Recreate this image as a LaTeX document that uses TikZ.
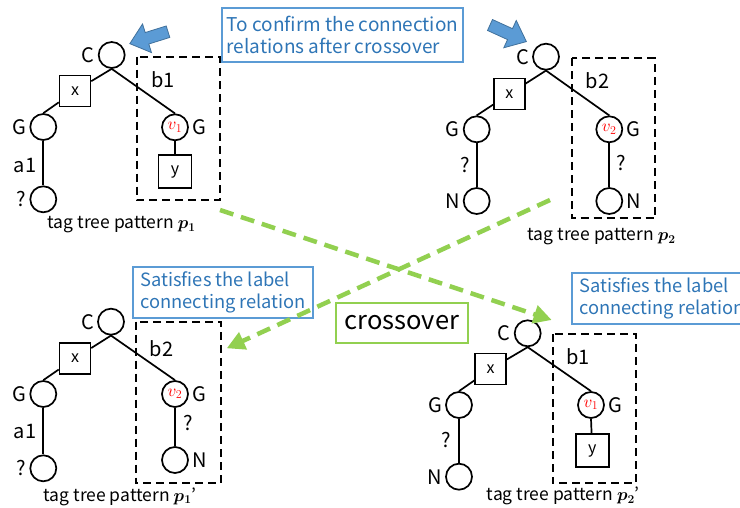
\documentclass[tikz,border=0pt]{standalone}
\usepackage{fontspec}
\setmainfont{Noto Sans CJK JP}
\usepackage{bm}
\usetikzlibrary{arrows.meta}
% let the math italic fonts scale freely
\DeclareFontShape{OML}{cmm}{m}{it}{<->cmmi10}{}
\DeclareFontShape{OML}{cmm}{b}{it}{<->cmmib10}{}

\definecolor{arrowblue}{HTML}{5B9BD5}
\definecolor{arrowedge}{HTML}{41719C}
\definecolor{notetext}{HTML}{2E75B6}
\definecolor{xgreen}{HTML}{92D050}

\tikzset{
  vtx/.style={circle, draw, line width=1.7pt, minimum size=26pt, inner sep=0pt, font=\fontsize{17}{17}\selectfont},
  sqbox/.style={rectangle, draw, line width=1.5pt, minimum width=31pt, minimum height=31pt, inner sep=0pt, font=\fontsize{16}{16}\selectfont},
  lbl/.style={font=\fontsize{20}{20}\selectfont, inner sep=3pt},
  tedge/.style={line width=1.7pt},
  region/.style={draw, line width=1.8pt, dash pattern=on 8pt off 5pt},
  caption/.style={font=\fontsize{17.5}{17.5}\selectfont, inner sep=0pt},
  note/.style={draw=arrowblue, line width=1.8pt, text=notetext, align=left, font=\fontsize{19}{22}\selectfont, inner sep=0pt},
  smallnote/.style={note, font=\fontsize{18.3}{22}\selectfont},
  swap/.style={draw=xgreen, line width=4.5pt, dash pattern=on 14pt off 8pt, -{Triangle[length=18pt,width=18pt]}},
}

% fat blue pointer: #1 = tail point, #2 = direction angle
\newcommand\bluepointer[2]{%
  \begin{scope}[shift={#1}, rotate=#2]
    \filldraw[fill=arrowblue, draw=arrowedge, line width=0.8pt]
      (0,-6) -- (22,-6) -- (22,-15) -- (40,0) -- (22,15) -- (22,6) -- (0,6) -- cycle;
  \end{scope}}

\begin{document}
\begin{tikzpicture}[x=1pt, y=-1pt]
\clip (0,0) rectangle (740,507);
\useasboundingbox (0,0) rectangle (740,507);

% ---------- tag tree pattern p1 ----------
\node[vtx, label={[lbl]left:C}] (c1) at (111.7,55) {};
\node[sqbox] (x1) at (75,91) {x};
\node[vtx, label={[lbl]left:G}] (g1) at (43.3,127) {};
\node[vtx, label={[lbl]left:?}] (q1) at (43.3,199.3) {};
\node[vtx, label={[lbl]right:G}] (v1) at (175,127.3) {\textcolor{red}{$v_1$}};
\node[sqbox, minimum size=33pt] (y1) at (175,171.7) {y};
\draw[tedge] (c1.south) -- (x1);
\draw[tedge] (x1) -- (g1.north);
\draw[tedge] (c1.south) -- (v1.north);
\draw[tedge] (v1.south) -- (y1);
\draw[tedge] (g1.south) -- (q1.north);
\draw[region] (136.7,56.7) rectangle (220,200);
\node[lbl] (b1a) at (163,80) {b1};
\node[lbl] (a1a) at (25,165) {a1};
\node[caption] (cap1) at (121.7,225) {tag tree pattern $\bm{p}_{\bm{1}}$};

% ---------- tag tree pattern p2 ----------
\node[vtx, label={[lbl]left:C}] (c2) at (546,56.7) {};
\node[sqbox] (x2) at (509.3,94) {x};
\node[vtx, label={[lbl]left:G}] (g2) at (476.7,129.3) {};
\node[vtx, label={[lbl]left:N}] (n2a) at (476.7,201) {};
\node[vtx, label={[lbl]right:G}] (v2) at (609.3,129.3) {\textcolor{red}{$v_2$}};
\node[vtx, label={[lbl]right:N}] (n2b) at (609.3,201) {};
\draw[tedge] (c2.south) -- (x2);
\draw[tedge] (x2) -- (g2.north);
\draw[tedge] (c2.south) -- (v2.north);
\draw[tedge] (g2.south) -- (n2a.north);
\draw[tedge] (v2.south) -- (n2b.north);
\draw[region] (571.7,58.3) rectangle (655,218.3);
\node[lbl] (b2a) at (597.7,81) {b2};
\node[lbl] (qa) at (465,165) {?};
\node[lbl] (qb) at (621,163) {?};
\node[caption] (cap2) at (601.7,236.7) {tag tree pattern $\bm{p}_{\bm{2}}$};

% ---------- tag tree pattern p1' ----------
\node[vtx, label={[lbl]left:C}] (c3) at (111,321.7) {};
\node[sqbox] (x3) at (75,358.3) {x};
\node[vtx, label={[lbl]left:G}] (g3) at (43.3,394) {};
\node[vtx, label={[lbl]left:?}] (q3) at (43.3,468.3) {};
\node[vtx, label={[lbl]right:G}] (v3) at (175,394) {\textcolor{red}{$v_2$}};
\node[vtx, label={[lbl]right:N}] (n3) at (175,460) {};
\draw[tedge] (c3.south) -- (x3);
\draw[tedge] (x3) -- (g3.north);
\draw[tedge] (c3.south) -- (v3.north);
\draw[tedge] (g3.south) -- (q3.north);
\draw[tedge] (v3.south) -- (n3.north);
\draw[region] (136,321.7) rectangle (221,483.3);
\node[lbl] (b2b) at (161.7,348.3) {b2};
\node[lbl] (a1b) at (25,431.7) {a1};
\node[lbl] (qc) at (188.3,423.3) {?};
\node[caption] (cap3) at (120,496.7) {tag tree pattern $\bm{p}_{\bm{1}}$’};

% ---------- tag tree pattern p2' ----------
\node[vtx, label={[lbl]left:C}] (c4) at (527.7,333.3) {};
\node[sqbox] (x4) at (490.7,369) {x};
\node[vtx, label={[lbl]left:G}] (g4) at (459,405) {};
\node[vtx, label={[lbl]left:N}] (n4) at (459,476.7) {};
\node[vtx, label={[lbl]right:G}] (v4) at (591,405) {\textcolor{red}{$v_1$}};
\node[sqbox, minimum size=33pt] (y4) at (592.3,450.7) {y};
\draw[tedge] (c4.south) -- (x4);
\draw[tedge] (x4) -- (g4.north);
\draw[tedge] (c4.south) -- (v4.north);
\draw[tedge] (g4.south) -- (n4.north);
\draw[tedge] (v4.south) -- (y4);
\draw[region] (552.7,334) rectangle (636,483.3);
\node[lbl] (b1b) at (578.3,356.7) {b1};
\node[lbl] (qd) at (446.7,440) {?};
\node[caption] (cap4) at (563.3,496) {tag tree pattern $\bm{p}_{\bm{2}}$’};

% ---------- notes ----------
\node[note, minimum width=241.6pt, minimum height=53.4pt] (note1) at (342.5,35)
  {To confirm the connection\\relations after crossover};
\node[smallnote, minimum width=180pt, minimum height=51.6pt] (note2) at (223.3,292.5)
  {Satisfies the label\\connecting relation};
\node[smallnote, anchor=west, minimum height=51.3pt, inner xsep=7.6pt] (note3) at (570.7,298.3)
  {Satisfies the label\\connecting relation};
\node[draw=xgreen, line width=2.2pt, minimum width=131.7pt, minimum height=39.4pt,
      inner sep=0pt, font=\fontsize{25.5}{25.5}\selectfont] (xo) at (401.8,323) {crossover};

% ---------- blue pointers ----------
\bluepointer{(168,31.7)}{197.4}
\bluepointer{(490,25)}{-24.5}

% ---------- crossover arrows ----------
\coordinate (s1) at (220,210);
\coordinate (e1) at (551.7,320);
\coordinate (s2) at (550,200);
\coordinate (e2) at (226.7,348.3);
\draw[swap] (s1) -- (e1);
\draw[swap] (s2) -- (e2);
\end{tikzpicture}
\end{document}
